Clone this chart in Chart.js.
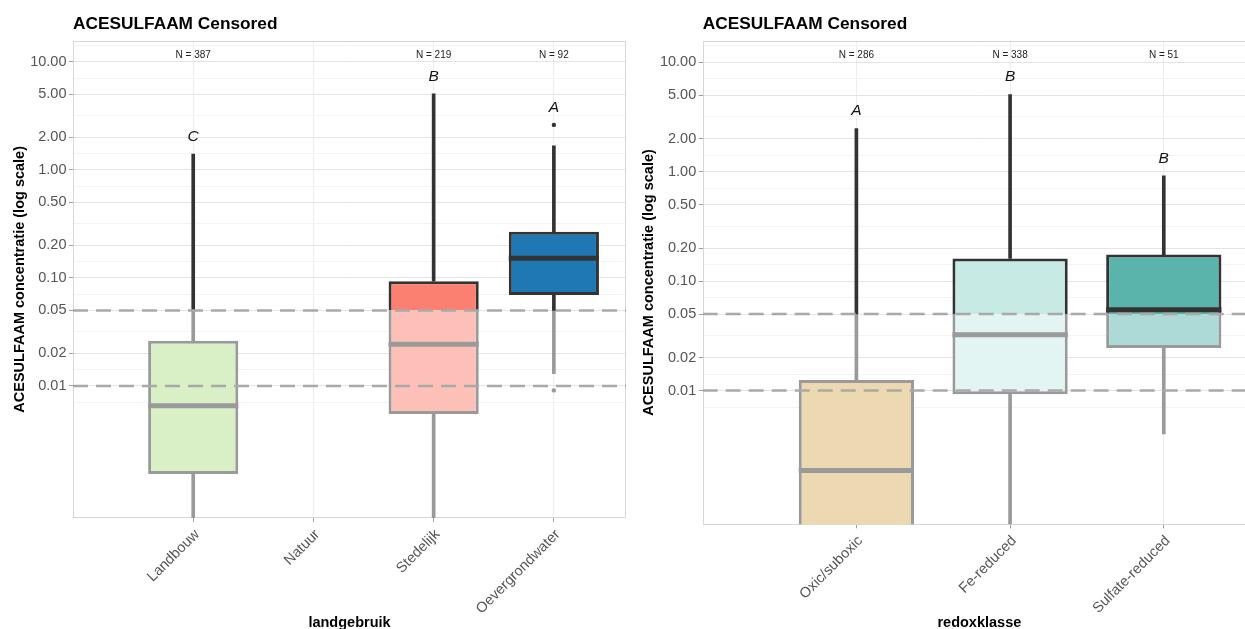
<!DOCTYPE html>
<html>
<head>
<meta charset="utf-8">
<script src="https://cdn.jsdelivr.net/npm/chart.js@4.4.1/dist/chart.umd.min.js"></script>
<style>
html,body{margin:0;padding:0;background:#fff;overflow:hidden;width:1245px;height:629px;}
#wrapL{position:absolute;left:0;top:0;width:630px;height:629px;}
#wrapR{position:absolute;left:630px;top:0;width:630px;height:629px;}
</style>
</head>
<body>
<div id="wrapL"><canvas id="cL" width="630" height="629"></canvas></div>
<div id="wrapR"><canvas id="cR" width="630" height="629"></canvas></div>
<script>
// ---------- shared ----------
const chartTitle = 'ACESULFAAM Censored';
const yAxisTitle = 'ACESULFAAM concentratie (log scale)';
const yBreaks = [0.01, 0.02, 0.05, 0.1, 0.2, 0.5, 1, 2, 5, 10];
const yBreaksExtended = [0.005, 0.01, 0.02, 0.05, 0.1, 0.2, 0.5, 1, 2, 5, 10, 20];
const censorLimit = 0.05;
const referenceLines = [0.05, 0.01];

// ---------- left panel: landgebruik ----------
const landCategories = ['Landbouw', 'Natuur', 'Stedelijk', 'Oevergrondwater'];
const landN = [387, null, 219, 92];
const landLetters = ['C', '', 'B', 'A'];
const landWhiskerLow = [0.0003, null, 0.0003, 0.0130];
const landQ1 = [0.00153, null, 0.0055, 0.0694];
const landMedian = [0.00656, null, 0.0244, 0.1525];
const landQ3 = [0.0262, null, 0.0933, 0.268];
const landWhiskerHigh = [1.40, null, 5.06, 1.67];
const landOutliers = [[], [], [], [2.61, 0.0091]];
const landColors = ['#B2DF8A', '#CCCCCC', '#FB8072', '#1F78B4'];

// ---------- right panel: redoxklasse ----------
const redoxCategories = ['Oxic/suboxic', 'Fe-reduced', 'Sulfate-reduced'];
const redoxN = [286, 338, 51];
const redoxLetters = ['A', 'B', 'B'];
const redoxWhiskerLow = [0.0002, 0.0003, 0.00401];
const redoxQ1 = [0.0003, 0.00924, 0.0245];
const redoxMedian = [0.00186, 0.0324, 0.0546];
const redoxQ3 = [0.01247, 0.1607, 0.1747];
const redoxWhiskerHigh = [2.47, 5.05, 0.916];
const redoxOutliers = [[], [], []];
const redoxColors = ['#D8B365', '#C7EAE5', '#5AB4AC'];

const FONT = '"Liberation Sans", Arial, Helvetica, sans-serif';
const DARK = '#333333';
const GRAY = '#9A9A9A';
Chart.defaults.font.family = FONT;

function lighten(hex) {
  const r = parseInt(hex.slice(1,3),16), g = parseInt(hex.slice(3,5),16), b = parseInt(hex.slice(5,7),16);
  return 'rgb(' + Math.round((r+255)/2) + ',' + Math.round((g+255)/2) + ',' + Math.round((b+255)/2) + ')';
}
const isMajor = v => yBreaks.some(b => Math.abs(b - v) / b < 1e-6);
const minorBreaks = yBreaksExtended.slice(1).map((v, i) => Math.sqrt(v * yBreaksExtended[i]));
const allYTicks = yBreaks.concat(minorBreaks).sort((a, b) => a - b);

const annotPlugin = {
  id: 'annot',
  beforeDatasetsDraw(chart) {
    const {ctx, chartArea: a} = chart;
    ctx.save();
    ctx.strokeStyle = '#D6D6D6';
    ctx.lineWidth = 1;
    ctx.strokeRect(Math.round(a.left) + 0.5, Math.round(a.top) + 0.5,
      Math.round(a.right - a.left) - 1, Math.round(a.bottom - a.top) - 1);
    ctx.restore();
  },
  afterDatasetsDraw(chart) {
    const o = chart.options.plugins.annot;
    const {ctx, chartArea: a} = chart;
    const x = chart.scales.x, y = chart.scales.y;
    ctx.save();
    ctx.beginPath();
    ctx.rect(a.left, a.top, a.right - a.left, a.bottom - a.top);
    ctx.clip();
    ctx.strokeStyle = '#A9A9A9';
    ctx.lineWidth = 2.5;
    ctx.setLineDash([15, 8]);
    referenceLines.forEach(v => {
      const py = y.getPixelForValue(v);
      ctx.beginPath(); ctx.moveTo(a.left, py); ctx.lineTo(a.right, py); ctx.stroke();
    });
    ctx.restore();

    ctx.save();
    ctx.textAlign = 'center';
    ctx.textBaseline = 'middle';
    ctx.fillStyle = '#222';
    ctx.font = '10px ' + FONT;
    o.n.forEach((n, i) => {
      if (n == null) return;
      ctx.fillText('N = ' + n, x.getPixelForValue(i), a.top + 14.5);
    });
    ctx.fillStyle = '#111';
    ctx.font = 'italic 15.5px ' + FONT;
    o.letters.forEach((L, i) => {
      if (!L) return;
      const top = Math.max(o.whiskerHigh[i], ...o.outliers[i]);
      ctx.fillText(L, x.getPixelForValue(i), y.getPixelForValue(top) - 17.5);
    });
    ctx.textAlign = 'left';
    ctx.textBaseline = 'alphabetic';
    ctx.fillStyle = '#000';
    ctx.font = 'bold 17.3px ' + FONT;
    ctx.fillText(chartTitle, a.left, 29);
    ctx.restore();
  }
};

function buildDatasets(d) {
  const L = censorLimit;
  const whiskDark = [], whiskGray = [], boxUp = [], boxLow = [], med = [], outl = [];
  d.categories.forEach((c, i) => {
    if (d.median[i] == null) return;
    const lo = d.whiskerLow[i], q1 = d.q1[i], m = d.median[i], q3 = d.q3[i], hi = d.whiskerHigh[i];
    const seg = (s, e) => {
      if (e <= s) return;
      if (s < L) whiskGray.push({x: i, y: [s, Math.min(e, L)]});
      if (e > L) whiskDark.push({x: i, y: [Math.max(s, L), e]});
    };
    seg(lo, q1); seg(q3, hi);
    const split = q1 < L && q3 > L;
    if (q3 > L) boxUp.push({x: i, y: [Math.max(q1, L), q3], fill: d.colors[i], skip: split ? 'bottom' : false});
    if (q1 < L) boxLow.push({x: i, y: [q1, Math.min(q3, L)], fill: lighten(d.colors[i]), skip: split ? 'top' : false});
    med.push({x: i, y: m, col: m > L ? DARK : GRAY});
    d.outliers[i].forEach(v => outl.push({x: i, y: v, col: v > L ? DARK : GRAY}));
  });
  const boxFrac = 0.75;
  const halfBox = ctx => {
    const sx = ctx.chart.scales.x;
    return (sx.getPixelForValue(1) - sx.getPixelForValue(0)) * boxFrac / 2;
  };
  return [
    {type: 'bar', data: whiskGray, backgroundColor: GRAY, borderWidth: 0, barThickness: 3, grouped: false, order: 5, clip: 0},
    {type: 'bar', data: whiskDark, backgroundColor: DARK, borderWidth: 0, barThickness: 3, grouped: false, order: 4, clip: 0},
    {type: 'bar', data: boxLow, backgroundColor: c => c.raw ? c.raw.fill : GRAY, borderColor: GRAY, borderWidth: 3,
      borderSkipped: c => c.raw ? c.raw.skip : false, grouped: false, barPercentage: boxFrac, categoryPercentage: 1, order: 3, clip: 0},
    {type: 'bar', data: boxUp, backgroundColor: c => c.raw ? c.raw.fill : DARK, borderColor: DARK, borderWidth: 3,
      borderSkipped: c => c.raw ? c.raw.skip : false, grouped: false, barPercentage: boxFrac, categoryPercentage: 1, order: 2, clip: 0},
    {type: 'line', data: med, showLine: false, pointStyle: 'line', pointRadius: halfBox, pointHoverRadius: halfBox,
      pointBorderWidth: 5, pointBorderColor: c => c.raw ? c.raw.col : DARK, order: 1, clip: 0},
    {type: 'line', data: outl, showLine: false, pointStyle: 'circle', pointRadius: 2.2, pointBorderWidth: 0,
      pointBackgroundColor: c => c.raw ? c.raw.col : DARK, order: 0, clip: 0}
  ];
}

function makeChart(id, d) {
  return new Chart(document.getElementById(id), {
    type: 'bar',
    data: {datasets: buildDatasets(d)},
    plugins: [annotPlugin],
    options: {
      responsive: false,
      animation: false,
      events: [],
      layout: {padding: {top: 40.7, right: d.padRight, left: 0, bottom: 0}},
      plugins: {
        legend: {display: false},
        tooltip: {enabled: false},
        annot: {n: d.n, letters: d.letters, whiskerHigh: d.whiskerHigh, outliers: d.outliers}
      },
      scales: {
        x: {
          type: 'linear', min: -1, max: d.categories.length - 1 + 0.6, offset: false,
          afterBuildTicks: s => { s.ticks = d.categories.map((c, i) => ({value: i})); },
          afterFit: s => { s.height = d.xAxisHeight; },
          grid: {offset: false, color: '#EDEDED', lineWidth: 1, tickLength: 4, tickColor: '#A0A0A0', drawTicks: true},
          border: {display: false},
          ticks: {autoSkip: false, minRotation: 45, maxRotation: 45, padding: 4, labelOffset: 4, color: '#555',
            font: {size: 14.5}, callback: v => d.categories[v] !== undefined ? d.categories[v] : ''},
          title: {display: true, text: d.xTitle, color: '#000', font: {size: 14.5, weight: 'bold', lineHeight: 0.8},
            padding: {top: 0, bottom: 0}}
        },
        y: {
          type: 'logarithmic', min: Math.pow(10, -3.194), max: Math.pow(10, 1.196),
          afterBuildTicks: s => { s.ticks = allYTicks.map(v => ({value: v})); },
          afterFit: s => { s.width = d.yAxisWidth; },
          grid: {
            color: c => (c.tick && isMajor(c.tick.value)) ? '#E4E4E4' : '#F3F3F3',
            lineWidth: 1, tickLength: 4, drawTicks: true,
            tickColor: c => (c.tick && isMajor(c.tick.value)) ? '#A0A0A0' : 'rgba(0,0,0,0)'
          },
          border: {display: false},
          ticks: {autoSkip: false, padding: 2.5, color: '#555', font: {size: 14.5},
            callback: v => isMajor(v) ? v.toFixed(2) : ''},
          title: {display: true, text: yAxisTitle, color: '#000', font: {size: 14.5, weight: 'bold'},
            padding: {top: d.yTitlePad, bottom: 0}}
        }
      }
    }
  });
}

makeChart('cL', {
  categories: landCategories, n: landN, letters: landLetters,
  whiskerLow: landWhiskerLow, q1: landQ1, median: landMedian, q3: landQ3, whiskerHigh: landWhiskerHigh,
  outliers: landOutliers, colors: landColors, xTitle: 'landgebruik',
  padRight: 2.5, xAxisHeight: 111, yAxisWidth: 73, yTitlePad: 11
});
makeChart('cR', {
  categories: redoxCategories, n: redoxN, letters: redoxLetters,
  whiskerLow: redoxWhiskerLow, q1: redoxQ1, median: redoxMedian, q3: redoxQ3, whiskerHigh: redoxWhiskerHigh,
  outliers: redoxOutliers, colors: redoxColors, xTitle: 'redoxklasse',
  padRight: 4, xAxisHeight: 104.7, yAxisWidth: 72.7, yTitlePad: 10
});
</script>
</body>
</html>
